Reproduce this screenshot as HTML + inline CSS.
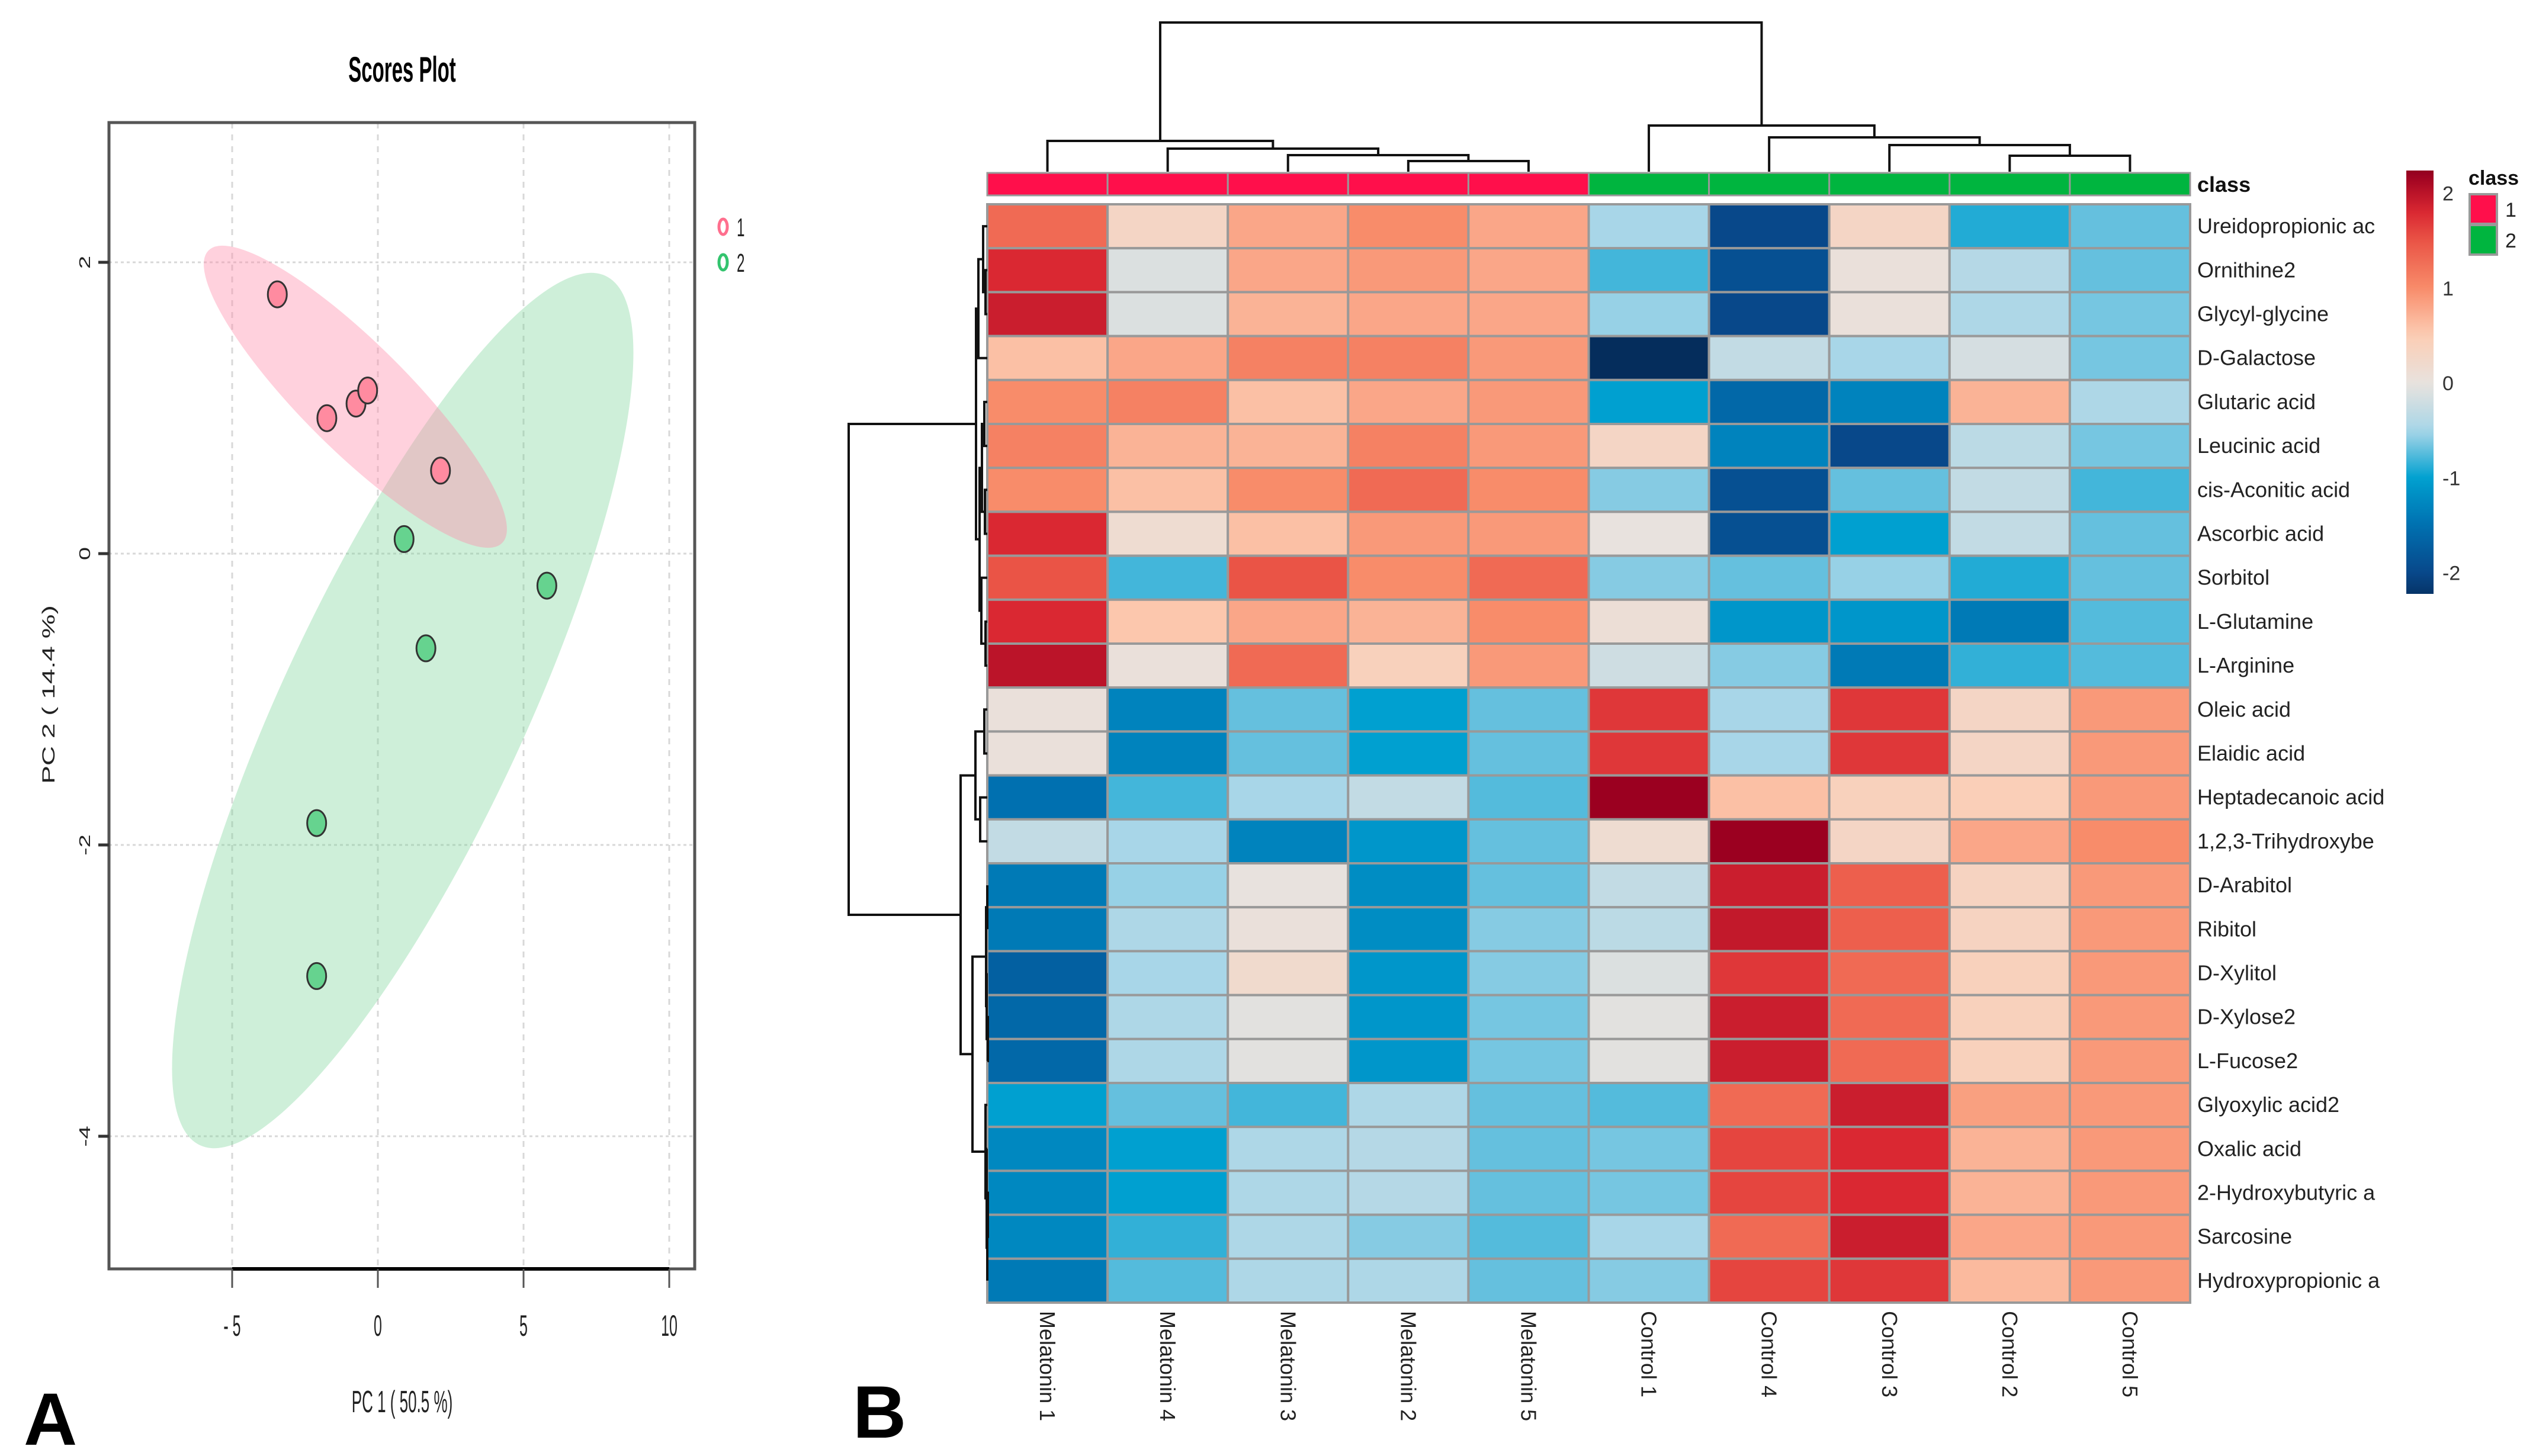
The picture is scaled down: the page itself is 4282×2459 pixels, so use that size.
<!DOCTYPE html>
<html><head><meta charset="utf-8"><style>
html,body{margin:0;padding:0;background:#fff;}
svg{display:block;font-family:"Liberation Sans",sans-serif;}
</style></head><body>
<svg id="fig" width="4282" height="2459" viewBox="0 0 4282 2459" xmlns="http://www.w3.org/2000/svg">
<rect width="4282" height="2459" fill="#fff"/>
<g id="scores"></g>
<g id="heat"></g>
</svg>
<script>
// ===== Scores plot data =====
const g1X = [-3.45, -1.75, -0.75, -0.35, 2.15];
const g1Y = [1.78, 0.93, 1.03, 1.12, 0.57];
const g2X = [0.9, 5.8, 1.65, -2.1, -2.1];
const g2Y = [0.1, -0.22, -0.65, -1.85, -2.9];
const xTicks = [-5, 0, 5, 10];
const xTickLabels = ["- 5", "0", "5", "10"];
const yTicks = [2, 0, -2, -4];
const yTickLabels = ["2", "0", "-2", "-4"];

// ===== Heatmap data =====
const colNames = ["Melatonin 1","Melatonin 4","Melatonin 3","Melatonin 2","Melatonin 5","Control 1","Control 4","Control 3","Control 2","Control 5"];
const colClass = [1,1,1,1,1,2,2,2,2,2];
const rowNames = ["Ureidopropionic ac","Ornithine2","Glycyl-glycine","D-Galactose","Glutaric acid","Leucinic acid","cis-Aconitic acid","Ascorbic acid","Sorbitol","L-Glutamine","L-Arginine","Oleic acid","Elaidic acid","Heptadecanoic acid","1,2,3-Trihydroxybe","D-Arabitol","Ribitol","D-Xylitol","D-Xylose2","L-Fucose2","Glyoxylic acid2","Oxalic acid","2-Hydroxybutyric a","Sarcosine","Hydroxypropionic a"];
const values = [
[1.3,0.3,0.8,1.0,0.8,-0.5,-2.0,0.3,-0.9,-0.7],
[1.8,-0.1,0.8,0.9,0.8,-0.8,-1.9,0.05,-0.4,-0.7],
[1.9,-0.1,0.7,0.8,0.8,-0.55,-2.0,0.05,-0.45,-0.65],
[0.6,0.8,1.1,1.1,0.9,-2.4,-0.3,-0.5,-0.15,-0.65],
[1.0,1.1,0.6,0.8,0.9,-1.0,-1.6,-1.3,0.7,-0.45],
[1.1,0.7,0.7,1.1,0.9,0.3,-1.3,-2.0,-0.35,-0.65],
[1.0,0.6,1.0,1.3,1.0,-0.6,-1.9,-0.7,-0.3,-0.8],
[1.8,0.15,0.6,0.9,0.9,0.0,-1.9,-1.0,-0.3,-0.7],
[1.5,-0.8,1.5,1.0,1.3,-0.6,-0.7,-0.55,-0.9,-0.7],
[1.8,0.55,0.8,0.7,1.0,0.1,-1.1,-1.1,-1.4,-0.75],
[2.0,0.05,1.3,0.4,0.9,-0.2,-0.6,-1.4,-0.85,-0.75],
[0.05,-1.3,-0.7,-1.0,-0.7,1.7,-0.5,1.7,0.3,0.9],
[0.05,-1.3,-0.7,-1.0,-0.7,1.7,-0.5,1.7,0.3,0.9],
[-1.5,-0.8,-0.5,-0.3,-0.75,2.2,0.6,0.4,0.45,0.9],
[-0.3,-0.5,-1.3,-1.1,-0.7,0.15,2.2,0.3,0.8,1.0],
[-1.4,-0.55,0.0,-1.2,-0.7,-0.3,1.9,1.4,0.35,0.9],
[-1.4,-0.45,0.05,-1.2,-0.6,-0.35,1.95,1.4,0.35,0.9],
[-1.7,-0.5,0.2,-1.1,-0.6,-0.1,1.7,1.3,0.4,0.9],
[-1.6,-0.45,-0.05,-1.1,-0.65,-0.05,1.9,1.3,0.4,0.9],
[-1.6,-0.45,-0.05,-1.1,-0.65,-0.05,1.9,1.3,0.4,0.9],
[-1.0,-0.7,-0.8,-0.45,-0.7,-0.75,1.3,1.9,0.85,0.9],
[-1.25,-1.0,-0.45,-0.4,-0.7,-0.65,1.6,1.8,0.7,0.9],
[-1.25,-1.0,-0.45,-0.4,-0.7,-0.65,1.6,1.8,0.7,0.9],
[-1.25,-0.85,-0.45,-0.6,-0.75,-0.5,1.3,1.9,0.8,0.9],
[-1.4,-0.75,-0.45,-0.45,-0.7,-0.6,1.6,1.7,0.65,0.9]
];
const scaleTicks = [2, 1, 0, -1, -2];

const NS = "http://www.w3.org/2000/svg";
function mk(parent, tag, attrs, text) {
  const e = document.createElementNS(NS, tag);
  for (const k in attrs) e.setAttribute(k, attrs[k]);
  if (text !== undefined) e.textContent = text;
  parent.appendChild(e);
  return e;
}

// ================= Scores plot =================
const S = document.getElementById('scores');
const sx = v => 638 + 49.2 * v;
const sy = v => 935 - 246 * v;
const BL = 184, BR = 1173, BT = 207, BB = 2143;

let t = mk(S, 'text', {x: 0, y: 0, 'font-size': 60, 'font-weight': 'bold', 'text-anchor': 'middle', transform: 'translate(679,138) scale(0.55,1)'}, 'Scores Plot');



xTicks.forEach(v => {
  const l = mk(S, 'line', {x1: sx(v), x2: sx(v), y1: BT, y2: BB, stroke: '#d8d8d8', 'stroke-width': 3, 'stroke-dasharray': '10,10'});
  
  
});
yTicks.forEach(v => {
  const l = mk(S, 'line', {x1: BL, x2: BR, y1: sy(v), y2: sy(v), stroke: '#d8d8d8', 'stroke-width': 3, 'stroke-dasharray': '5,5'});
  
  
});

let e1 = mk(S, 'ellipse', {cx: 680, cy: 1200, rx: 810, ry: 205, transform: 'rotate(-65 680 1200)', fill: 'rgb(120,210,150)', 'fill-opacity': 0.36});


let e2 = mk(S, 'ellipse', {cx: 600, cy: 670, rx: 350, ry: 90, transform: 'rotate(44.9 600 670)', fill: 'rgb(255,140,170)', 'fill-opacity': 0.4});



let box = mk(S, 'rect', {x: BL, y: BT, width: BR - BL, height: BB - BT, fill: 'none', stroke: '#555', 'stroke-width': 5});



g1X.forEach((v, i) => {
  const c = mk(S, 'ellipse', {cx: sx(v), cy: sy(g1Y[i]), rx: 16, ry: 22, fill: '#FF8BA0', stroke: '#333', 'stroke-width': 3});
  
  
});
g2X.forEach((v, i) => {
  const c = mk(S, 'ellipse', {cx: sx(v), cy: sy(g2Y[i]), rx: 16, ry: 22, fill: '#66D38F', stroke: '#333', 'stroke-width': 3});
  
  
});

let xa = mk(S, 'line', {x1: sx(xTicks[0]), x2: sx(xTicks[xTicks.length-1]), y1: BB, y2: BB, stroke: '#000', 'stroke-width': 6});


xTicks.forEach((v, i) => {
  const l = mk(S, 'line', {x1: sx(v), x2: sx(v), y1: BB, y2: BB + 32, stroke: '#555', 'stroke-width': 3});
  
  
  const tt = mk(S, 'text', {x: 0, y: 0, 'font-size': 50, 'text-anchor': 'middle', fill: '#222', transform: `translate(${sx(v)},2256) scale(0.5,1)`}, xTickLabels[i]);
  
  
});
t = mk(S, 'text', {x: 0, y: 0, 'font-size': 52, 'text-anchor': 'middle', fill: '#222', transform: 'translate(679,2385) scale(0.5,1)'}, 'PC 1 ( 50.5 %)');



yTicks.forEach((v, i) => {
  const l = mk(S, 'line', {x1: 166, x2: BL, y1: sy(v), y2: sy(v), stroke: '#333', 'stroke-width': 5});
  
  
  const tt = mk(S, 'text', {x: 0, y: 0, 'font-size': 40, 'text-anchor': 'middle', fill: '#222', transform: `translate(152,${sy(v)}) scale(0.65,1) rotate(-90)`}, yTickLabels[i]);
  
  
});
t = mk(S, 'text', {x: 0, y: 0, 'font-size': 46, 'text-anchor': 'middle', fill: '#222', transform: 'translate(92,1173) scale(0.65,1) rotate(-90)'}, 'PC 2 ( 14.4 %)');



[['1', '#FF6F8E', 383], ['2', '#33C46E', 443]].forEach(d => {
  const c = mk(S, 'ellipse', {cx: 1221, cy: d[2], rx: 7, ry: 13, fill: 'none', stroke: d[1], 'stroke-width': 5});
  
  
  const tt = mk(S, 'text', {x: 0, y: 0, 'font-size': 44, fill: '#222', transform: `translate(1244,${d[2] + 16}) scale(0.55,1)`}, d[0]);
  
  
});

t = mk(S, 'text', {x: 40, y: 2440, 'font-size': 125, 'font-weight': 'bold', fill: '#000'}, 'A');



// ================= Heatmap =================
const H = document.getElementById('heat');
const HL = 1667, HR = 3698, HT = 345, RH = 74.2;
const CW = (HR - HL) / colNames.length;
const colX = j => HL + CW * j;
const rowY = i => HT + RH * i;

const stops = [
  [-2.3, [5, 45, 92]], [-2.0, [8, 72, 138]], [-1.5, [0, 112, 176]], [-1.0, [0, 160, 208]],
  [-0.5, [168, 214, 232]], [0, [232, 226, 222]], [0.5, [252, 205, 180]], [1.0, [248, 140, 106]],
  [1.5, [234, 84, 70]], [1.8, [218, 40, 50]], [2.2, [155, 0, 32]], [2.4, [110, 0, 30]]
];
function col(v) {
  if (v <= stops[0][0]) return `rgb(${stops[0][1]})`;
  for (let k = 1; k < stops.length; k++) {
    if (v <= stops[k][0]) {
      const a = stops[k-1], b = stops[k];
      const f = (v - a[0]) / (b[0] - a[0]);
      const c = a[1].map((x, m) => Math.round(x + (b[1][m] - x) * f));
      return `rgb(${c.join(',')})`;
    }
  }
  return `rgb(${stops[stops.length-1][1]})`;
}

colClass.forEach((c, j) => {
  const r = mk(H, 'rect', {x: colX(j), y: 292, width: CW, height: 38, fill: c === 1 ? '#FF0F4B' : '#00B53F', stroke: '#999', 'stroke-width': 3});
  
  
});
t = mk(H, 'text', {x: 3710, y: 324, 'font-size': 36, 'font-weight': 'bold', fill: '#111'}, 'class');



values.forEach((row, i) => {
  row.forEach((v, j) => {
    const r = mk(H, 'rect', {x: colX(j), y: rowY(i), width: CW, height: RH, fill: col(v), stroke: '#999', 'stroke-width': 4});
    
    
  });
  const tt = mk(H, 'text', {x: 3710, y: rowY(i) + RH / 2 + 12, 'font-size': 36, fill: '#222'}, rowNames[i]);
  
  
});

colNames.forEach((n, j) => {
  const tt = mk(H, 'text', {x: 0, y: 0, 'font-size': 36, fill: '#222', 'dominant-baseline': 'central', transform: `translate(${colX(j) + CW / 2},2214) rotate(90)`}, n);
  
  
});

const colTree = [38, [238, 0, [251, 1, [262, 2, [272, 3, 4]]]], [212, 5, [232, 6, [245, 7, [263, 8, 9]]]]];
function drawCol(node) {
  if (typeof node === 'number') return {x: colX(node) + CW / 2, y: 290};
  const a = drawCol(node[1]), b = drawCol(node[2]);
  const y = node[0];
  const p = mk(H, 'path', {d: `M${a.x},${a.y}V${y}H${b.x}V${b.y}`, fill: 'none', stroke: '#111', 'stroke-width': 4});
  
  
  return {x: (a.x + b.x) / 2, y: y};
}
drawCol(colTree);

const rowTree = [1433,
  [1648, [1652, [1660, 0, [1664, 1, 2]], 3],
         [1654, [1658, [1662, 4, 5], [1663, 6, 7]], [1657, 8, [1664, 9, 10]]]],
  [1622, [1647, [1662, 11, 12], [1655, 13, 14]],
         [1642, [1665, [1667, 15, 16], [1666, 17, [1668, 18, 19]]], [1664, 20, [1666, 21, [1667, [1668, 22, 23], 24]]]]]];
function drawRow(node) {
  if (typeof node === 'number') return {x: HL, y: rowY(node) + RH / 2};
  const a = drawRow(node[1]), b = drawRow(node[2]);
  const x = node[0];
  const p = mk(H, 'path', {d: `M${a.x},${a.y}H${x}V${b.y}H${b.x}`, fill: 'none', stroke: '#111', 'stroke-width': 4});
  
  
  return {x: x, y: (a.y + b.y) / 2};
}
drawRow(rowTree);

const defs = mk(H, 'defs', {});
const lg = mk(defs, 'linearGradient', {id: 'cbar', x1: 0, y1: 0, x2: 0, y2: 1});
const cTop = 2.24, cBot = -2.22;
for (let k = 0; k <= 40; k++) {
  const v = cTop + (cBot - cTop) * k / 40;
  mk(lg, 'stop', {offset: (k / 40), 'stop-color': col(v)});
}
const cbar = mk(H, 'rect', {x: 4063, y: 288, width: 46, height: 715, fill: 'url(#cbar)'});


const cy = v => 288 + (cTop - v) / (cTop - cBot) * 715;
scaleTicks.forEach(v => {
  const tt = mk(H, 'text', {x: 4124, y: cy(v) + 12, 'font-size': 34, fill: '#333'}, String(v));
  
  
});

t = mk(H, 'text', {x: 4168, y: 312, 'font-size': 34, 'font-weight': 'bold', fill: '#111'}, 'class');


[['1', '#FF0F4B', 328], ['2', '#00B53F', 380]].forEach(d => {
  const r = mk(H, 'rect', {x: 4170, y: d[2], width: 46, height: 50, fill: d[1], stroke: '#999', 'stroke-width': 4});
  
  
  const tt = mk(H, 'text', {x: 4230, y: d[2] + 38, 'font-size': 34, fill: '#222'}, d[0]);
  
  
});

t = mk(H, 'text', {x: 1440, y: 2428, 'font-size': 125, 'font-weight': 'bold', fill: '#000'}, 'B');


</script>
</body></html>
